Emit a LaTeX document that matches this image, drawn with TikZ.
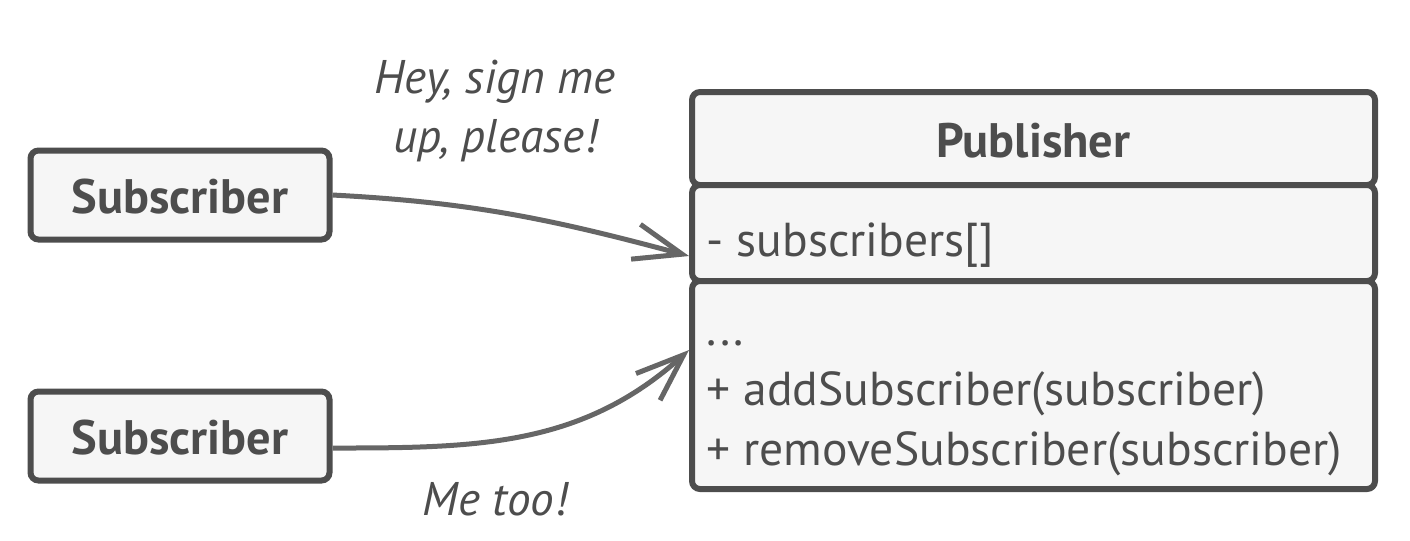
\documentclass[tikz,border=0pt]{standalone}
\usepackage{fontspec}
\setmainfont{PT Sans}
\usetikzlibrary{positioning,arrows.meta}
\definecolor{ink}{HTML}{4D4D4D}
\definecolor{wire}{HTML}{666666}
\definecolor{paper}{HTML}{F6F6F6}
\begin{document}
\begin{tikzpicture}[x=0.25pt,y=-0.25pt,
  box/.style={draw=ink,fill=paper,line width=1.5pt,rounded corners=2pt,inner sep=0pt,minimum width=74.75pt,minimum height=22.25pt},
  part/.style={draw=ink,fill=paper,line width=1.5pt,rounded corners=2pt,inner sep=0pt,minimum width=170.75pt},
  title/.style={text=ink,font=\fontsize{12.1}{14}\selectfont\bfseries,inner sep=0pt},
  member/.style={text=ink,font=\fontsize{11.9}{14}\selectfont,inner sep=0pt,anchor=base west},
  say/.style={text=ink,font=\fontsize{11.8}{14}\selectfont\itshape,inner sep=0pt,anchor=base},
  link/.style={draw=wire,line width=1.25pt,-{Straight Barb[length=12pt,width=9pt]}}]
\useasboundingbox (0,0) rectangle (1410,540);
% subscribers
\node[box] (sub1) at (180,195) {};
\node[box] (sub2) at (180,436) {};
\node[title,anchor=base] (t1) at (180,213) {Subscriber};
\node[title,anchor=base] (t2) at (180,454) {Subscriber};
% publisher class
\node[part,minimum height=23.25pt] (head) at (1033.5,138.5) {};
\node[part,minimum height=24pt] (attr) at (1033.5,233) {};
\node[part,minimum height=52pt] (ops) at (1033.5,385) {};
\node[title,anchor=base] (pub) at (1033.5,157) {Publisher};
\node[member] (f1) at (706,256) {- subscribers[]};
\node[member] (m0) at (706,345) {...};
\node[member] (m1) at (706,405) {+ addSubscriber(subscriber)};
\node[member] (m2) at (706,465) {+ removeSubscriber(subscriber)};
% messages
\coordinate (in1) at (attr.west |- 0,256);
\coordinate (in2) at (ops.west |- 0,350);
\coordinate (out2) at (sub2.east |- 0,448);
\draw[link] (sub1.east) to[out=-3,in=165] (in1);
\draw[link] (out2) to[out=0,in=-138] (in2);
\node[say] (s1) at (495,93) {Hey, sign me};
\node[say] (s2) at (495,152) {up, please!};
\node[say] (s3) at (495,515) {Me too!};
\end{tikzpicture}
\end{document}
